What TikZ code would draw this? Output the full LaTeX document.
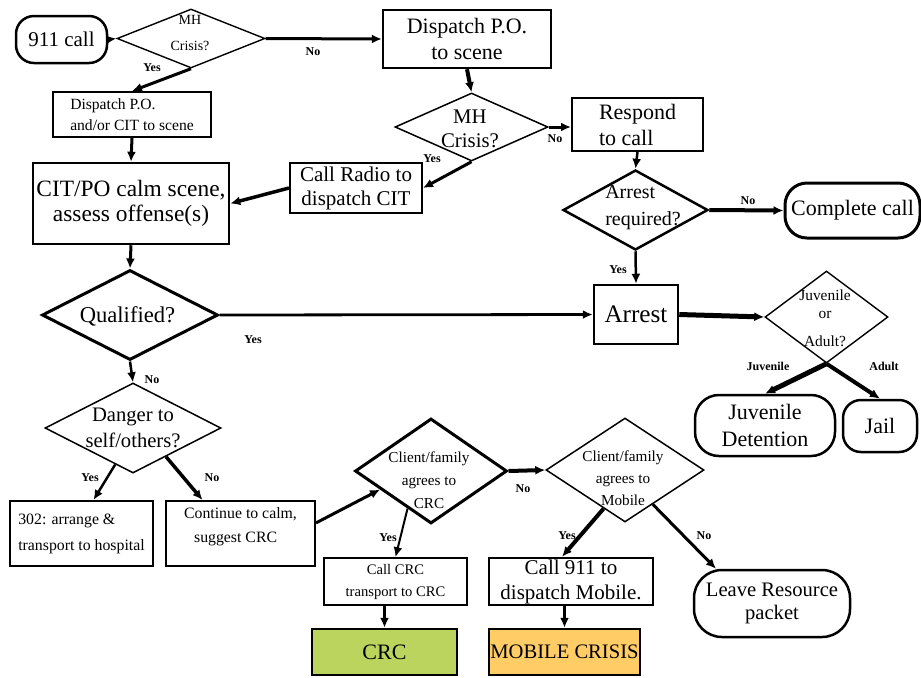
\documentclass[tikz,border=0pt]{standalone}
\usepackage{fontspec}
\setmainfont{Liberation Serif}
\usetikzlibrary{arrows.meta}
\usetikzlibrary{shapes.geometric}
\tikzset{>={Latex[length=5pt,width=4.5pt]}}
\definecolor{crcgreen}{RGB}{186,212,94}
\definecolor{mobileorange}{RGB}{255,204,102}
\newcommand{\txtsize}[2]{\fontsize{#1}{#2}\selectfont}
\tikzstyle{procbox}=[draw=black,line width=1pt,inner sep=0pt,align=center]
\tikzstyle{termbox}=[draw=black,line width=1.25pt,rounded corners=9pt,inner sep=0pt,align=center]
\tikzstyle{decbox}=[draw=black,diamond,inner sep=0pt,line width=0.7pt]
\tikzstyle{dectext}=[inner sep=0pt,align=center]
\tikzstyle{flowline}=[->,line width=1.5pt]
\tikzstyle{answer}=[inner sep=0pt,font=\txtsize{6}{7}\bfseries]

\begin{document}
\begin{tikzpicture}[x=0.5pt,y=-0.5pt]
  \useasboundingbox (0,0) rectangle (921,677);

  % first call and police dispatch
  \node[termbox,minimum width=45.5pt,minimum height=23.5pt,font=\txtsize{10.5}{12}] (call) at (61.5,39.5) {911 call};
  \node[decbox,minimum width=74pt,minimum height=29.5pt] (mhone) at (191,38.5) {};
  \node[dectext,font=\txtsize{7}{13}] (mhonetext) at (190,33) {MH\\Crisis?};
  \node[procbox,line width=1.2pt,minimum width=84pt,minimum height=29pt,font=\txtsize{11}{13}] (dispone) at (467,39) {Dispatch P.O.\\to scene};
  \node[procbox,minimum width=79pt,minimum height=22.5pt,align=left,font=\txtsize{7.8}{10.5}] (disptwo) at (132,114.5) {Dispatch P.O.\\and/or CIT to scene};
  \node[procbox,line width=1.25pt,minimum width=98pt,minimum height=40.5pt,font=\txtsize{11.7}{12.5}] (calm) at (131,203.5) {CIT/PO calm scene,\\assess offense(s)};
  \node[procbox,minimum width=66pt,minimum height=25pt,font=\txtsize{10.5}{12}] (radio) at (356,188) {Call Radio to\\dispatch CIT};
  \node[decbox,line width=0.75pt,minimum width=76.5pt,minimum height=34pt] (mhtwo) at (471.5,127) {};
  \node[dectext,font=\txtsize{10.4}{12}] (mhtwotext) at (470,129) {MH\\Crisis?};
  \node[procbox,minimum width=65.5pt,minimum height=26.5pt,align=left,font=\txtsize{11}{13}] (respond) at (637.5,124.5) {Respond\\to call};

  % arrest branch
  \node[decbox,line width=1.25pt,minimum width=72.5pt,minimum height=40pt] (arrq) at (635.5,210) {};
  \node[dectext,align=left,font=\txtsize{10}{13.5}] (arrqtext) at (643,208) {Arrest\\required?};
  \node[termbox,line width=1.5pt,rounded corners=11pt,minimum width=67.5pt,minimum height=27.5pt,font=\txtsize{11}{13}] (complete) at (852.5,210.5) {Complete call};
  \node[procbox,line width=1.25pt,minimum width=42pt,minimum height=29.5pt,font=\txtsize{12.6}{14}] (arrest) at (636,314.5) {Arrest};
  \node[decbox,minimum width=61.5pt,minimum height=46pt] (juvad) at (826.5,317) {};
  \node[dectext,font=\txtsize{7.7}{9}] (juvadtext) at (825,318) {Juvenile\\or\\[5pt]Adult?};
  \node[termbox,rounded corners=12pt,minimum width=70pt,minimum height=30.5pt,font=\txtsize{11}{13.5}] (juvdet) at (765,425.5) {Juvenile\\Detention};
  \node[termbox,minimum width=37pt,minimum height=26pt,font=\txtsize{11}{13}] (jail) at (880,426) {Jail};

  % qualified / danger
  \node[decbox,line width=1.5pt,minimum width=88pt,minimum height=45pt] (qual) at (130,315) {};
  \node[dectext,font=\txtsize{11.3}{13}] (qualtext) at (127.5,316) {Qualified?};
  \node[decbox,line width=0.75pt,minimum width=88pt,minimum height=45pt] (danger) at (133,428) {};
  \node[dectext,font=\txtsize{10.3}{13}] (dangertext) at (133,428) {Danger to\\self/others?};
  \node[procbox,minimum width=71.5pt,minimum height=32.5pt,align=left,font=\txtsize{7.9}{13}] (hosp) at (81.5,533.5) {302: arrange \&\\transport to hospital};
  \node[procbox,minimum width=74.5pt,minimum height=32.5pt,align=left,font=\txtsize{7.9}{12}] (cont) at (240.5,533.5) {Continue to calm,\\\hspace*{5pt}suggest CRC\\[-4pt]\mbox{}};

  % CRC / mobile crisis
  \node[decbox,line width=1.5pt,minimum width=76pt,minimum height=52.5pt] (crcq) at (431,471) {};
  \node[dectext,font=\txtsize{7.6}{11.5}] (crcqtext) at (429,480) {Client/family\\agrees to\\CRC};
  \node[decbox,line width=0.75pt,minimum width=79pt,minimum height=52pt] (mobq) at (625,470) {};
  \node[dectext,font=\txtsize{7.6}{11}] (mobqtext) at (623,478) {Client/family\\agrees to\\Mobile};
  \node[procbox,line width=0.8pt,minimum width=71.5pt,minimum height=23.5pt,font=\txtsize{7.3}{11}] (callcrc) at (395.5,581.5) {Call CRC\\transport to CRC};
  \node[procbox,line width=1.25pt,minimum width=82pt,minimum height=23.5pt,font=\txtsize{10.5}{12.5}] (callmob) at (571,581.5) {Call 911 to\\dispatch Mobile.};
  \node[procbox,line width=1.25pt,fill=crcgreen,minimum width=72.5pt,minimum height=23pt,font=\txtsize{11}{13}] (crc) at (384.5,652) {CRC};
  \node[procbox,line width=1.25pt,fill=mobileorange,minimum width=75.5pt,minimum height=23pt,font=\txtsize{10.3}{12}] (mobile) at (564.5,652) {MOBILE CRISIS};
  \node[termbox,rounded corners=14pt,minimum width=78pt,minimum height=33.5pt,font=\txtsize{10.3}{11.5}] (leave) at (772,603.5) {Leave Resource\\packet};

  % connectors
  \draw[flowline,line width=1pt] (call.east) -- (mhone.west);
  \draw[flowline] (mhone.east) -- (dispone.west);
  \draw[flowline] (mhone.south) -- (disptwo.north);
  \draw[flowline] (disptwo.south) -- (calm.north);
  \draw[flowline,line width=2pt] (dispone.south) -- (mhtwo.north);
  \draw[flowline] (mhtwo.east) -- (mhtwo.east -| respond.west);
  \draw[flowline] (mhtwo.south) -- (radio.east);
  \draw[flowline,line width=1.75pt] (radio.west) -- (calm.east);
  \draw[flowline,line width=1.25pt] (respond.south) -- (arrq.north);
  \draw[flowline,line width=2pt] (arrq.east) -- (complete.west);
  \draw[flowline,line width=1.25pt] (arrq.south) -- (arrest.north);
  \draw[flowline] (calm.south) -- (qual.north);
  \draw[flowline,line width=1.4pt] (qual.east) -- (arrest.west);
  \draw[flowline,line width=2.5pt] (arrest.east) -- (juvad.west);
  \draw[flowline,line width=2.5pt] (juvad.south) -- (juvdet.north);
  \draw[flowline,line width=2pt] (juvad.south) -- (jail.north);
  \draw[flowline,line width=1.25pt] (qual.south) -- (danger.north);
  \draw[flowline,line width=1.25pt] (danger.244) -- ([xshift=6pt]hosp.north);
  \draw[flowline,line width=1.75pt] (danger.319) -- ([xshift=-19pt]cont.north);
  \draw[flowline] (cont.8) -- (crcq.200);
  \draw[flowline,line width=2pt] (crcq.east) -- (mobq.west);
  \draw[flowline,line width=1pt] (crcq.238) -- (callcrc.north);
  \draw[flowline,line width=2pt] (mobq.241) -- ([xshift=-4.5pt]callmob.north);
  \draw[flowline] (mobq.309) -- ([xshift=-28pt]leave.north);
  \draw[flowline] (callcrc.south -| crc.north) -- (crc.north);
  \draw[flowline] (mobile.north |- callmob.south) -- (mobile.north);

  % answers
  \node[answer] (ansa) at (152,68) {Yes};
  \node[answer] (ansb) at (313,52) {No};
  \node[answer] (ansc) at (432,159) {Yes};
  \node[answer] (ansd) at (555,139) {No};
  \node[answer] (anse) at (748,201) {No};
  \node[answer] (ansf) at (618,270) {Yes};
  \node[answer] (ansg) at (253,340) {Yes};
  \node[answer] (ansh) at (768,366) {Juvenile};
  \node[answer] (ansi) at (884,366) {Adult};
  \node[answer] (ansj) at (152,380) {No};
  \node[answer] (ansk) at (90,478) {Yes};
  \node[answer] (ansl) at (212,478) {No};
  \node[answer] (ansm) at (523,489) {No};
  \node[answer] (ansn) at (388,538) {Yes};
  \node[answer] (anso) at (567,536) {Yes};
  \node[answer] (ansp) at (704,536) {No};
\end{tikzpicture}
\end{document}
